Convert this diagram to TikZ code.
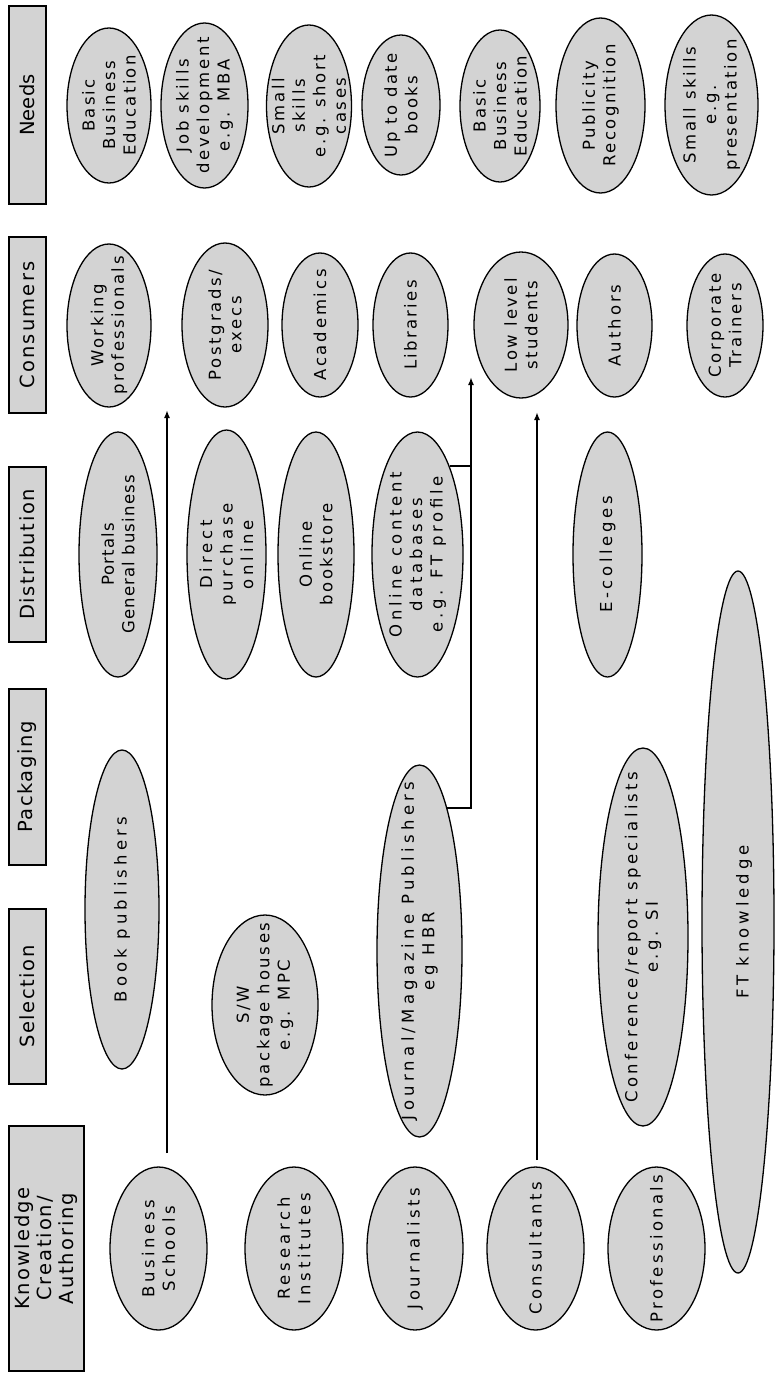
\documentclass[tikz,border=0pt]{standalone}
\usepackage{fontspec}
\setmainfont{DejaVu Sans}
\newfontfamily\elfont{DejaVu Sans}
\usetikzlibrary{shapes.geometric,arrows.meta}
\definecolor{bubgray}{RGB}{211,211,211}
\tikzset{
  bub/.style={ellipse, draw=black, fill=bubgray, line width=1.3pt, inner sep=0pt, rotate=90},
  bubtxt/.style={rotate=90, align=center, inner sep=0pt},
  hdbox/.style={rectangle, draw=black, fill=bubgray, line width=1.4pt, inner sep=0pt, rotate=90},
  hdtxt/.style={rotate=90, align=center, inner sep=0pt},
  arr/.style={line width=1.9pt, -{Latex[length=8pt,width=6pt]}},
  conn/.style={line width=1.9pt}
}
% name, cx, cy, W (horizontal), H (vertical), text, letter spacing
\newcommand\bubble[7]{%
  \node[bub, minimum width=#5pt, minimum height=#4pt] (#1) at (#2,-#3) {};
  \node[bubtxt, font={\elfont\fontsize{16.5}{20.5}\selectfont\addfontfeature{LetterSpace=#7}}] (#1t) at (#1.center) {#6};}
\newcommand\header[7]{%
  \node[hdbox, minimum width=#5pt, minimum height=#4pt] (#1) at (#2,-#3) {};
  \node[hdtxt, font={\elfont\fontsize{19.5}{22}\selectfont\addfontfeature{LetterSpace=#7}}] (#1t) at (#1.center) {#6};}
\begin{document}
\begin{tikzpicture}[x=1pt,y=1pt]
\useasboundingbox (0,0) rectangle (775,-1373);
% headers
\header{hneeds}{27.5}{105}{37}{198}{Needs}{1}
\header{hcons}{27.5}{325}{37}{176}{Consumers}{11}
\header{hdist}{27.5}{554.5}{37}{175}{Distribution}{8}
\header{hpack}{27.5}{777}{37}{176}{Packaging}{8}
\header{hsel}{27.5}{996.5}{37}{175}{Selection}{8}
\header{hknow}{46.5}{1248.5}{75}{245}{Knowledge\\Creation/\\Authoring}{10}
% needs
\bubble{n1}{109}{105.5}{84}{155}{Basic\\Business\\Education}{14}
\bubble{n2}{204.5}{105.5}{87}{165}{Job skills\\development\\e.g. MBA}{17}
\bubble{n3}{309}{106}{85}{162}{Small\\skills\\e.g. short\\cases}{16}
\bubble{n4}{401}{105}{78}{140}{Up to date\\books}{15}
\bubble{n5}{500}{106}{80}{152}{Basic\\Business\\Education}{14}
\bubble{n6}{600.5}{105.5}{89}{175}{Publicity\\Recognition}{15}
\bubble{n7}{711.5}{105}{93}{180}{Small skills\\e.g.\\presentation}{15}
% consumers
\bubble{c1}{109}{325.5}{84}{163}{Working\\professionals}{15}
\bubble{c2}{225}{325}{86}{164}{Postgrads/\\execs}{16}
\bubble{c3}{320}{325}{76}{144}{Academics}{17}
\bubble{c4}{410.5}{325}{75}{144}{Libraries}{14}
\bubble{c5}{521}{325}{94}{146}{Low level\\students}{15}
\bubble{c6}{614.5}{325.5}{75}{143}{Authors}{18}
\bubble{c7}{725}{325.5}{76}{143}{Corporate\\Trainers}{17}
% distribution
\bubble{d1}{118}{554.5}{78}{245}{Portals\\General business}{7}
\bubble{d2}{226.5}{554.5}{79}{249}{Direct\\purchase\\online}{23}
\bubble{d3}{316}{554.5}{76}{245}{Online\\bookstore}{15}
\bubble{d4}{417.5}{554.5}{91}{245}{Online content\\databases\\e.g. FT profile}{22}
\bubble{d5}{607.5}{554.5}{69}{245}{E-colleges}{22}
% packaging / selection
\node[bub, minimum width=702pt, minimum height=72pt] (ft) at (738,-922) {};
\node[bubtxt, font={\elfont\fontsize{16.5}{20.5}\selectfont\addfontfeature{LetterSpace=24}}] (ftt) at ([xshift=6pt]ft.center) {FT knowledge};
\bubble{p1}{122}{909.5}{74}{319}{Book publishers}{25}
\bubble{p2}{419.5}{951}{85}{372}{Journal/Magazine Publishers\\eg HBR}{26}
\bubble{p3}{643}{937}{90}{378}{Conference/report specialists\\e.g. SI}{20}
\bubble{s1}{265}{1005}{106}{180}{S/W\\package houses\\e.g. MPC}{16}
% knowledge creation
\bubble{k1}{158.5}{1248.5}{97}{163}{Business\\Schools}{22}
\bubble{k2}{294}{1248.5}{98}{163}{Research\\Institutes}{23}
\bubble{k3}{415}{1248.5}{96}{163}{Journalists}{22}
\bubble{k4}{535.5}{1248.5}{97}{163}{Consultants}{21}
\bubble{k5}{656.5}{1248.5}{97}{163}{Professionals}{20}
% connectors
\coordinate (a1s) at (167,-1153);
\coordinate (a1e) at (167,-410);
\draw[arr] (a1s) -- (a1e);
\coordinate (a2e) at (471,-377);
\draw[arr] (p2.-11.7) -| (a2e);
\draw[conn] (d4.-20.9) -- (d4.-20.9 -| a2e);
\coordinate (a3s) at (537,-1160);
\coordinate (a3e) at (537,-412);
\draw[arr] (a3s) -- (a3e);
\end{tikzpicture}
\end{document}
